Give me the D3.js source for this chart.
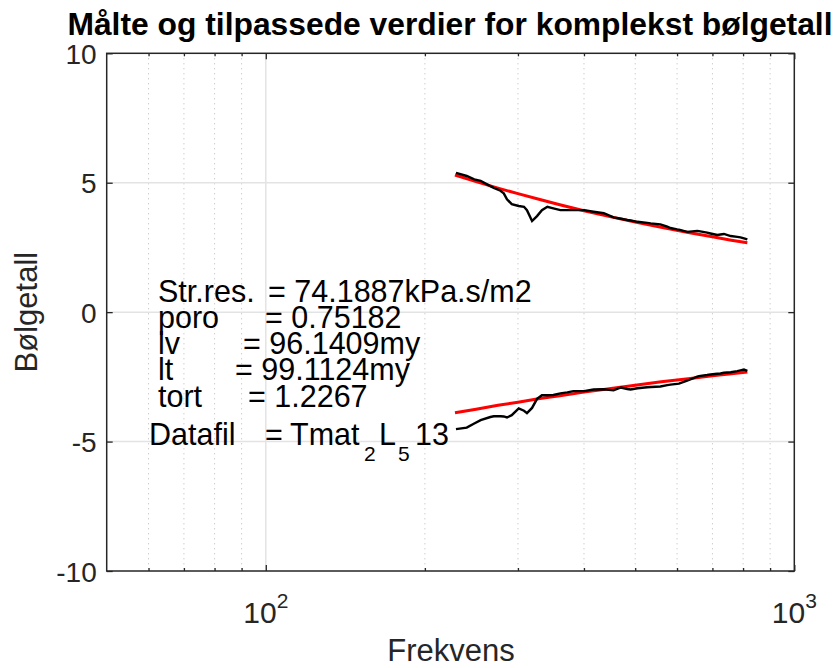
<!DOCTYPE html>
<html>
<head>
<meta charset="utf-8">
<script src="https://cdn.jsdelivr.net/npm/d3@7/dist/d3.min.js"></script>
<style>
  html, body { margin: 0; padding: 0; background: #fff; }
  svg { display: block; font-family: "Liberation Sans", Arial, Helvetica, sans-serif; }
</style>
</head>
<body>
<svg id="chart" width="837" height="668"></svg>
<script>
// Measured frequencies (Hz) and complex wavenumber components
const measFreq = [229, 240, 248, 255, 266, 270, 278, 282, 286, 292, 301, 308, 312, 319, 326, 333, 341, 350, 361, 372, 382, 400, 417, 436, 455, 470, 483, 490, 505, 527, 535, 558, 575, 583, 600, 605, 627, 655, 660, 684, 694, 715, 725, 736, 758, 780, 791, 803, 815];
const measRe = [5.38, 5.26, 5.13, 5.07, 4.87, 4.80, 4.69, 4.59, 4.36, 4.17, 4.10, 4.07, 3.94, 3.52, 3.71, 3.94, 4.07, 4.01, 3.94, 3.94, 3.94, 3.94, 3.88, 3.82, 3.66, 3.61, 3.56, 3.54, 3.49, 3.45, 3.43, 3.39, 3.30, 3.25, 3.20, 3.19, 3.10, 3.14, 3.13, 3.07, 3.04, 2.98, 3.00, 3.02, 2.94, 2.91, 2.89, 2.85, 2.81];
const measIm = [-4.52, -4.46, -4.30, -4.17, -4.05, -4.02, -4.02, -4.03, -4.07, -3.98, -3.72, -3.81, -3.90, -3.70, -3.35, -3.21, -3.21, -3.20, -3.14, -3.10, -3.05, -3.05, -2.99, -2.98, -3.02, -2.91, -2.97, -2.99, -2.94, -2.90, -2.89, -2.87, -2.82, -2.80, -2.77, -2.76, -2.65, -2.49, -2.47, -2.43, -2.41, -2.38, -2.37, -2.34, -2.32, -2.28, -2.25, -2.22, -2.27];

// Fitted model values
const fitFreq = [228, 250, 275, 300, 330, 360, 400, 450, 500, 560, 630, 700, 760, 815];
const fitRe = [5.30, 5.04, 4.79, 4.58, 4.35, 4.15, 3.92, 3.68, 3.48, 3.28, 3.08, 2.91, 2.78, 2.68];
const fitIm = [-3.89, -3.75, -3.60, -3.48, -3.34, -3.23, -3.09, -2.95, -2.82, -2.69, -2.57, -2.46, -2.38, -2.31];

// Axis ticks
const yTicks = [-10, -5, 0, 5, 10];
const xMajor = [100, 1000];
const xMajorExp = ["2", "3"];
const xMinor = [60, 70, 80, 90, 200, 300, 400, 500, 600, 700, 800, 900];

// Annotation lines: label, value text
const infoLabels = ["Str.res.", "poro", "lv", "lt", "tort"];
const infoValues = ["= 74.1887kPa.s/m2", "= 0.75182", "= 96.1409my", "= 99.1124my", "= 1.2267"];

const titleText = "Målte og tilpassede verdier for komplekst bølgetall";
const xLabelText = "Frekvens";
const yLabelText = "Bølgetall";

const svg = d3.select("#chart");
const L = 106.7, R = 794.3, T = 53.3, B = 571;
const x = d3.scaleLog().domain([50, 1000]).range([L, R]);
const y = d3.scaleLinear().domain([-10, 10]).range([B, T]);

const axisColor = "#262626";

// Grid
const grid = svg.append("g");
grid.selectAll("line.minor").data(xMinor).join("line")
  .attr("x1", d => x(d)).attr("x2", d => x(d)).attr("y1", T).attr("y2", B)
  .attr("stroke", "#b8b8b8").attr("stroke-width", 1).attr("stroke-dasharray", "1,4");
grid.selectAll("line.xmaj").data(xMajor.filter(d => d < 1000)).join("line")
  .attr("x1", d => x(d)).attr("x2", d => x(d)).attr("y1", T).attr("y2", B)
  .attr("stroke", "#e3e3e3").attr("stroke-width", 1.5);
grid.selectAll("line.ymaj").data(yTicks.filter(d => d > -10 && d < 10)).join("line")
  .attr("x1", L).attr("x2", R).attr("y1", d => y(d)).attr("y2", d => y(d))
  .attr("stroke", "#e3e3e3").attr("stroke-width", 1.5);

// Data lines
const line = (fs, vs) => d3.line().x((d, i) => x(fs[i])).y(d => y(d))(vs);
svg.append("path").attr("d", line(fitFreq, fitRe)).attr("fill", "none").attr("stroke", "#ff0000").attr("stroke-width", 3);
svg.append("path").attr("d", line(fitFreq, fitIm)).attr("fill", "none").attr("stroke", "#ff0000").attr("stroke-width", 3);
svg.append("path").attr("d", line(measFreq, measRe)).attr("fill", "none").attr("stroke", "#000").attr("stroke-width", 2.4);
svg.append("path").attr("d", line(measFreq, measIm)).attr("fill", "none").attr("stroke", "#000").attr("stroke-width", 2.4);

// Axes with inward ticks
const fontTick = 28;
const yAxisL = d3.axisLeft(y).tickValues(yTicks).tickSize(-6).tickPadding(10).tickFormat(d => String(d));
const gL = svg.append("g").attr("transform", `translate(${L},0)`).call(yAxisL);
const yAxisR = d3.axisRight(y).tickValues(yTicks).tickSize(-6).tickFormat("");
const gR = svg.append("g").attr("transform", `translate(${R},0)`).call(yAxisR);
const xAxisB = d3.axisBottom(x).tickValues(xMajor).tickSize(-6).tickFormat("");
const gB = svg.append("g").attr("transform", `translate(0,${B})`).call(xAxisB);
const xAxisT = d3.axisTop(x).tickValues(xMajor).tickSize(-6).tickFormat("");
const gT = svg.append("g").attr("transform", `translate(0,${T})`).call(xAxisT);
const xMinB = d3.axisBottom(x).tickValues(xMinor).tickSize(-3).tickFormat("");
const gMB = svg.append("g").attr("transform", `translate(0,${B})`).call(xMinB);
const xMinT = d3.axisTop(x).tickValues(xMinor).tickSize(-3).tickFormat("");
const gMT = svg.append("g").attr("transform", `translate(0,${T})`).call(xMinT);
[gL, gR, gB, gT, gMB, gMT].forEach(g => {
  g.select(".domain").remove();
  g.selectAll(".tick line").attr("stroke", axisColor).attr("stroke-width", 1.3);
});
gL.selectAll(".tick text").attr("font-size", fontTick).attr("fill", axisColor)
  .attr("font-family", "Liberation Sans, Arial, sans-serif").attr("dy", "0.36em");

// Box
svg.append("rect").attr("x", L).attr("y", T).attr("width", R - L).attr("height", B - T)
  .attr("fill", "none").attr("stroke", axisColor).attr("stroke-width", 1.5);

// X tick labels: 10^n
const xl = svg.append("g");
xMajor.forEach((v, i) => {
  const t = xl.append("text").attr("x", x(v)).attr("y", 623).attr("text-anchor", "middle")
    .attr("fill", axisColor).attr("font-size", fontTick + 2);
  t.append("tspan").text("10");
  t.append("tspan").attr("dy", -15).attr("font-size", 21).text(xMajorExp[i]);
});

// Axis labels and title
svg.append("text").attr("x", 451).attr("y", 661).attr("text-anchor", "middle")
  .attr("font-size", 31).attr("fill", axisColor).text(xLabelText);
svg.append("text").attr("transform", `translate(37,${(T + B) / 2}) rotate(-90)`).attr("text-anchor", "middle")
  .attr("font-size", 31).attr("fill", axisColor).text(yLabelText);
svg.append("text").attr("x", 450).attr("y", 35).attr("text-anchor", "middle")
  .attr("font-size", 31.8).attr("font-weight", "bold").attr("fill", "#000").text(titleText);

// Parameter annotation
const infoEqX = [268, 265, 243, 235, 248];
const info = svg.append("g").attr("font-size", 30.5).attr("fill", "#000");
infoLabels.forEach((lab, i) => {
  const by = 301.7 + i * 26.25;
  info.append("text").attr("x", 158).attr("y", by).text(lab);
  info.append("text").attr("x", infoEqX[i]).attr("y", by).text(infoValues[i]);
});
info.append("text").attr("x", 149).attr("y", 445).text("Datafil");
const df = info.append("text").attr("y", 445);
df.append("tspan").attr("x", 265).text("=");
df.append("tspan").attr("x", 290).text("Tmat");
df.append("tspan").attr("x", 364).attr("dy", 16).attr("font-size", 21).text("2");
df.append("tspan").attr("x", 379).attr("dy", -16).text("L");
df.append("tspan").attr("x", 398).attr("dy", 16).attr("font-size", 21).text("5");
df.append("tspan").attr("x", 415).attr("dy", -16).text("13");
</script>
</body>
</html>
